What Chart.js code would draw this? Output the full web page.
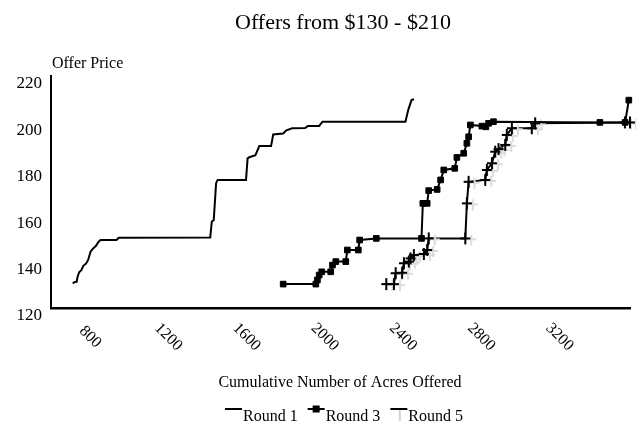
<!DOCTYPE html>
<html>
<head>
<meta charset="utf-8">
<script src="https://cdn.jsdelivr.net/npm/chart.js@4.4.1/dist/chart.umd.min.js"></script>
<style>
  html, body { margin: 0; padding: 0; background: #fff; }
</style>
</head>
<body>
<canvas id="chart" width="636" height="430"></canvas>
<script>
// Offers per round: cumulative acres offered vs. offer price
const round1Acres = [711, 722, 731, 736, 744, 756, 765, 778, 790, 802, 816, 829, 841, 853, 935, 946,
  1414, 1422, 1432, 1444, 1452, 1597, 1605, 1614, 1645, 1665, 1725, 1736, 1787, 1803, 1833, 1899,
  1914, 1971, 1988, 2412, 2426, 2443, 2456];
const round1Price = [130.6, 131.2, 131.3, 133.5, 135.4, 136.4, 138.2, 139, 140.7, 144.3, 145.7, 146.7,
  148.3, 149.3, 149.3, 150.3, 150.4, 157.2, 157.9, 173.8, 175.2, 175.2, 184.5, 185, 185.9, 189.8,
  189.8, 194.8, 195.2, 196.6, 197.5, 197.6, 198.5, 198.5, 200.3, 200.3, 205.3, 209.6, 210];

const round3Acres = [1787, 1954, 1962, 1971, 1984, 2030, 2039, 2056, 2107, 2115, 2171, 2178, 2263,
  2494, 2501, 2523, 2531, 2574, 2592, 2608, 2664, 2675, 2710, 2726, 2735, 2744, 2803, 2823, 2837,
  2862, 3406, 3535, 3554];
const round3Price = [130.3, 130.3, 132.1, 134.2, 135.6, 135.6, 138.5, 140, 140, 145, 145, 149.3, 150,
  150, 165.1, 165.1, 170.6, 171.1, 175.2, 179.5, 180.2, 184.9, 186.7, 191, 193.8, 198.9, 198.4,
  198.1, 199.6, 200.3, 200, 200, 209.6];

const round5Acres = [2314, 2353, 2362, 2395, 2404, 2429, 2438, 2455, 2506, 2523, 2531, 2718, 2726,
  2735, 2820, 2828, 2854, 2871, 2888, 2922, 2930, 2956, 3058, 3075, 3534, 3560];
const round5Price = [130.3, 130.3, 135, 135.2, 139.3, 140, 141.4, 142.8, 143.3, 145, 150, 150, 165.1,
  174.4, 175.2, 179.5, 182.4, 187.4, 188.5, 190.3, 194.6, 197.5, 197.5, 199.6, 200, 200];

const xTicks = [800, 1200, 1600, 2000, 2400, 2800, 3200];
const yTicks = [120, 140, 160, 180, 200, 220];
const seriesNames = ['Round 1', 'Round 3', 'Round 5'];

const serif = '"Liberation Serif", "Times New Roman", serif';

function toPoints(xs, ys) {
  return xs.map((x, i) => ({ x: x, y: ys[i] }));
}

// "+" marker with a light grey shadow cross, like the printed original
function makeCrossMarker() {
  const c = document.createElement('canvas');
  c.width = 26; c.height = 18;
  const g = c.getContext('2d');
  g.lineWidth = 2;
  g.strokeStyle = '#dcdcdc';
  g.beginPath();
  g.moveTo(19, 5); g.lineTo(19, 16);
  g.moveTo(14, 10); g.lineTo(24, 10);
  g.stroke();
  g.strokeStyle = '#000';
  g.beginPath();
  g.moveTo(13, 3); g.lineTo(13, 15);
  g.moveTo(8, 9); g.lineTo(18, 9);
  g.stroke();
  return c;
}

// Titles, rotated tick labels and the legend are drawn here
const chartText = {
  id: 'chartText',
  afterDraw(chart) {
    const { ctx, chartArea, scales } = chart;
    ctx.save();
    ctx.fillStyle = '#000';
    ctx.strokeStyle = '#000';

    ctx.font = '22px ' + serif;
    ctx.textAlign = 'center';
    ctx.textBaseline = 'middle';
    ctx.fillText('Offers from $130 - $210', 343, 23);

    ctx.font = '16px ' + serif;
    ctx.textAlign = 'left';
    ctx.fillText('Offer Price', 52, 64);

    // y tick labels sit a little below their ticks
    ctx.font = '17px ' + serif;
    ctx.textAlign = 'right';
    yTicks.forEach(v => {
      ctx.fillText(String(v), chartArea.left - 9, scales.y.getPixelForValue(v) + 8);
    });

    // x tick labels turned 45 degrees clockwise
    ctx.font = '16px ' + serif;
    ctx.textAlign = 'center';
    xTicks.forEach(v => {
      ctx.save();
      ctx.translate(scales.x.getPixelForValue(v), chartArea.bottom + 29);
      ctx.rotate(Math.PI / 4);
      ctx.fillText(String(v), 0, 0);
      ctx.restore();
    });

    ctx.font = '16px ' + serif;
    ctx.fillText('Cumulative Number of Acres Offered', 340, 383);

    // legend
    ctx.font = '16px ' + serif;
    ctx.textAlign = 'left';
    const sampleW = 17, gap = 10;
    const widths = seriesNames.map(n => ctx.measureText(n).width);
    const total = widths.reduce((a, b) => a + b + sampleW + 1, 0) + gap * 2;
    let lx = 344 - total / 2;
    const ly = 409;
    seriesNames.forEach((name, i) => {
      ctx.lineWidth = 2;
      ctx.strokeStyle = '#000';
      ctx.beginPath();
      ctx.moveTo(lx, ly); ctx.lineTo(lx + sampleW, ly);
      ctx.stroke();
      if (i === 1) {
        ctx.fillRect(lx + sampleW / 2 - 3.5, ly - 3.5, 7, 7);
      } else if (i === 2) {
        ctx.strokeStyle = '#d2d2d2';
        ctx.beginPath();
        ctx.moveTo(lx + sampleW / 2 + 1, ly + 1); ctx.lineTo(lx + sampleW / 2 + 1, ly + 12);
        ctx.stroke();
      }
      ctx.fillText(name, lx + sampleW + 1, ly + 8);
      lx += sampleW + 1 + widths[i] + gap;
    });
    ctx.restore();
  }
};

new Chart(document.getElementById('chart'), {
  type: 'line',
  data: {
    datasets: [
      {
        label: seriesNames[0],
        data: toPoints(round1Acres, round1Price),
        borderColor: '#000',
        borderWidth: 2,
        pointRadius: 0,
        tension: 0
      },
      {
        label: seriesNames[1],
        data: toPoints(round3Acres, round3Price),
        borderColor: '#000',
        borderWidth: 2,
        pointStyle: 'rect',
        pointRadius: 4,
        pointBackgroundColor: '#000',
        pointBorderColor: '#000',
        pointBorderWidth: 1,
        tension: 0,
        clip: 8
      },
      {
        label: seriesNames[2],
        data: toPoints(round5Acres, round5Price),
        borderColor: '#000',
        borderWidth: 2,
        pointStyle: makeCrossMarker(),
        tension: 0,
        clip: 8
      }
    ]
  },
  options: {
    responsive: false,
    animation: false,
    events: [],
    layout: { padding: { left: 51, top: 76, right: 4, bottom: 122 } },
    plugins: {
      legend: { display: false },
      title: { display: false },
      tooltip: { enabled: false }
    },
    scales: {
      x: {
        type: 'linear',
        min: 600,
        max: 3560,
        grid: { display: false, drawTicks: false },
        border: { display: true, color: '#000', width: 2.5 },
        ticks: { display: false },
        afterFit: (s) => { s.height = 0; }
      },
      y: {
        min: 120,
        max: 220,
        grid: { display: false, drawTicks: false },
        border: { display: true, color: '#000', width: 2 },
        ticks: { display: false },
        afterFit: (s) => { s.width = 0; }
      }
    }
  },
  plugins: [chartText]
});
</script>
</body>
</html>
